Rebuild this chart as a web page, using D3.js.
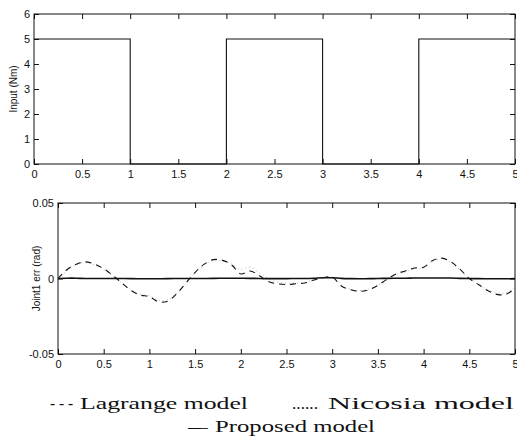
<!DOCTYPE html>
<html>
<head>
<meta charset="utf-8">
<script src="https://cdn.jsdelivr.net/npm/d3@7"></script>
<style>
  body { margin: 0; background: #fff; }
  svg { display: block; }
</style>
</head>
<body>
<div id="chart"></div>
<script>
// input torque (square wave)
const inputTime = [0, 1, 1, 2, 2, 3, 3, 4, 4, 5];
const inputValue = [5, 5, 0, 0, 5, 5, 0, 0, 5, 5];

// joint 1 error, sampled every 0.1 s
const errTime = [0, 0.1, 0.2, 0.3, 0.4, 0.5, 0.6, 0.7, 0.8, 0.9, 1.0, 1.1, 1.2, 1.3, 1.4, 1.5, 1.6, 1.7, 1.8, 1.9, 2.0,
  2.1, 2.2, 2.3, 2.4, 2.5, 2.6, 2.7, 2.8, 2.9, 3.0, 3.1, 3.2, 3.3, 3.4, 3.5, 3.6, 3.7, 3.8, 3.9, 4.0,
  4.1, 4.2, 4.3, 4.4, 4.5, 4.6, 4.7, 4.8, 4.9, 5.0];
const lagrangeErr = [0, 0.006, 0.0095, 0.011, 0.0095, 0.0065, 0.002, -0.003, -0.008, -0.011, -0.012,
  -0.0155, -0.015, -0.01, -0.003, 0.004, 0.0095, 0.0125, 0.012, 0.009, 0.003,
  0.005, 0.002, -0.002, -0.0035, -0.004, -0.0035, -0.003, -0.001, 0.0005, 0.001,
  -0.005, -0.0075, -0.0085, -0.0075, -0.0045, -0.0005, 0.003, 0.005, 0.007, 0.0075,
  0.012, 0.0135, 0.011, 0.006, 0, -0.004, -0.008, -0.0105, -0.0105, -0.0065];
const nicosiaErr = [0, 0.005, 0.009, 0.0105, 0.009, 0.006, 0.0015, -0.003, -0.0075, -0.0105, -0.0115,
  -0.0145, -0.014, -0.0095, -0.003, 0.0035, 0.009, 0.012, 0.0115, 0.0095, 0.006,
  0.0075, 0.004, 0, -0.0025, -0.003, -0.003, -0.0025, -0.001, 0.0005, 0.001,
  -0.004, -0.007, -0.008, -0.007, -0.0045, -0.0005, 0.0025, 0.0045, 0.0065, 0.007,
  0.0115, 0.013, 0.0105, 0.0055, 0, -0.0035, -0.0075, -0.0095, -0.0095, -0.006];
const proposedErr = [0, 0.0002, 0.0002, 0, 0, 0, 0, 0, -0.0001, -0.0002, -0.0002,
  -0.0002, -0.0001, 0, 0, 0, 0, 0.0001, 0.0002, 0.0002, 0.0002,
  0.0001, 0, -0.0001, -0.0001, -0.0001, 0, 0, 0.0002, 0.0005, 0.0005,
  0.0001, -0.0001, -0.0002, -0.0001, 0, 0.0001, 0.0002, 0.0002, 0.0003, 0.0003,
  0.0003, 0.0003, 0.0003, 0.0001, 0, -0.0001, -0.0002, -0.0002, -0.0002, -0.0001];

// tick values
const xTicks = [0, 0.5, 1, 1.5, 2, 2.5, 3, 3.5, 4, 4.5, 5];
const inputTicks = [0, 1, 2, 3, 4, 5, 6];
const errTicks = [-0.05, 0, 0.05];

const width = 517, height = 439;
const ink = "#111";
const axisFont = "'Liberation Sans', Arial, sans-serif";
const serif = "'Liberation Serif', 'Times New Roman', serif";

const svg = d3.select("#chart").append("svg")
  .attr("width", width)
  .attr("height", height);

// draw one matlab-style box with inward ticks on all four sides
function drawFrame(x, y, yTicks, yFormat) {
  const [x0, x1] = x.range();
  const [y0, y1] = y.range(); // y0 bottom, y1 top
  const g = svg.append("g");

  g.append("rect")
    .attr("x", x0).attr("y", y1)
    .attr("width", x1 - x0).attr("height", y0 - y1)
    .attr("fill", "none").attr("stroke", ink).attr("stroke-width", 1);

  const bottom = g.append("g").attr("transform", `translate(0,${y0})`)
    .call(d3.axisBottom(x).tickValues(xTicks).tickSize(-5).tickSizeOuter(0).tickPadding(6).tickFormat(d => d));
  const top = g.append("g").attr("transform", `translate(0,${y1})`)
    .call(d3.axisTop(x).tickValues(xTicks).tickSize(-5).tickSizeOuter(0).tickFormat(""));
  const left = g.append("g").attr("transform", `translate(${x0},0)`)
    .call(d3.axisLeft(y).tickValues(yTicks).tickSize(-5).tickSizeOuter(0).tickPadding(4).tickFormat(yFormat));
  const right = g.append("g").attr("transform", `translate(${x1},0)`)
    .call(d3.axisRight(y).tickValues(yTicks).tickSize(-5).tickSizeOuter(0).tickFormat(""));

  [bottom, top, left, right].forEach(a => {
    a.select(".domain").remove();
    a.selectAll("line").attr("stroke", ink);
    a.selectAll("text")
      .attr("fill", ink)
      .style("font-family", axisFont)
      .style("font-size", "11px");
  });
  // last x label sits on the page edge, nudge it inside
  bottom.selectAll("text").filter(d => d === 5).attr("text-anchor", "end").attr("dx", "3");
  return g;
}

// ---- top panel: input torque
const xTop = d3.scaleLinear().domain([0, 5]).range([34, 515]);
const yTop = d3.scaleLinear().domain([0, 6]).range([164, 14]);

drawFrame(xTop, yTop, inputTicks, d => d);

svg.append("path")
  .datum(inputTime.map((t, i) => [t, inputValue[i]]))
  .attr("fill", "none")
  .attr("stroke", ink)
  .attr("stroke-width", 1.1)
  .attr("d", d3.line().x(d => xTop(d[0])).y(d => yTop(d[1])));

svg.append("text")
  .attr("transform", `translate(17,${(yTop(0) + yTop(6)) / 2}) rotate(-90)`)
  .attr("text-anchor", "middle")
  .attr("fill", ink)
  .style("font-family", axisFont)
  .style("font-size", "10px")
  .text("Input (Nm)");

// ---- bottom panel: joint error
const xBot = d3.scaleLinear().domain([0, 5]).range([58, 515]);
const yBot = d3.scaleLinear().domain([-0.05, 0.05]).range([354, 203]);

drawFrame(xBot, yBot, errTicks, d => d === 0 ? "0" : d.toFixed(2));

const errLine = d3.line()
  .x(d => xBot(d[0]))
  .y(d => yBot(d[1]))
  .curve(d3.curveCatmullRom);

svg.append("path")
  .datum(errTime.map((t, i) => [t, nicosiaErr[i]]))
  .attr("fill", "none")
  .attr("stroke", "#bbb")
  .attr("stroke-width", 1)
  .attr("stroke-dasharray", "1,3")
  .attr("d", errLine);

svg.append("path")
  .datum(errTime.map((t, i) => [t, lagrangeErr[i]]))
  .attr("fill", "none")
  .attr("stroke", ink)
  .attr("stroke-width", 1.1)
  .attr("stroke-dasharray", "6,5")
  .attr("d", errLine);

svg.append("path")
  .datum(errTime.map((t, i) => [t, proposedErr[i]]))
  .attr("fill", "none")
  .attr("stroke", ink)
  .attr("stroke-width", 1.6)
  .attr("d", errLine);

svg.append("text")
  .attr("transform", `translate(40,${(yBot(-0.05) + yBot(0.05)) / 2}) rotate(-90)`)
  .attr("text-anchor", "middle")
  .attr("fill", ink)
  .style("font-family", axisFont)
  .style("font-size", "10px")
  .text("Joint1 err (rad)");

// ---- legend (typeset below the plots)
const legendItems = [
  { sample: "- - -", label: "Lagrange model", sx: 50, sw: 23, lx: 80, lw: 168, y: 409 },
  { sample: "......", label: "Nicosia model", sx: 292, sw: 26, lx: 328, lw: 186, y: 409 },
  { sample: "\u2014\u2013", label: "Proposed model", sx: 188, sw: 20, lx: 215, lw: 160, y: 432 }
];

legendItems.forEach(item => {
  svg.append("text")
    .attr("x", item.sx).attr("y", item.y)
    .attr("textLength", item.sw)
    .attr("lengthAdjust", "spacingAndGlyphs")
    .attr("fill", ink)
    .style("font-family", serif)
    .style("font-size", "17px")
    .text(item.sample);
  svg.append("text")
    .attr("x", item.lx).attr("y", item.y)
    .attr("textLength", item.lw)
    .attr("lengthAdjust", "spacingAndGlyphs")
    .attr("fill", ink)
    .style("font-family", serif)
    .style("font-size", "17px")
    .text(item.label);
});
</script>
</body>
</html>
